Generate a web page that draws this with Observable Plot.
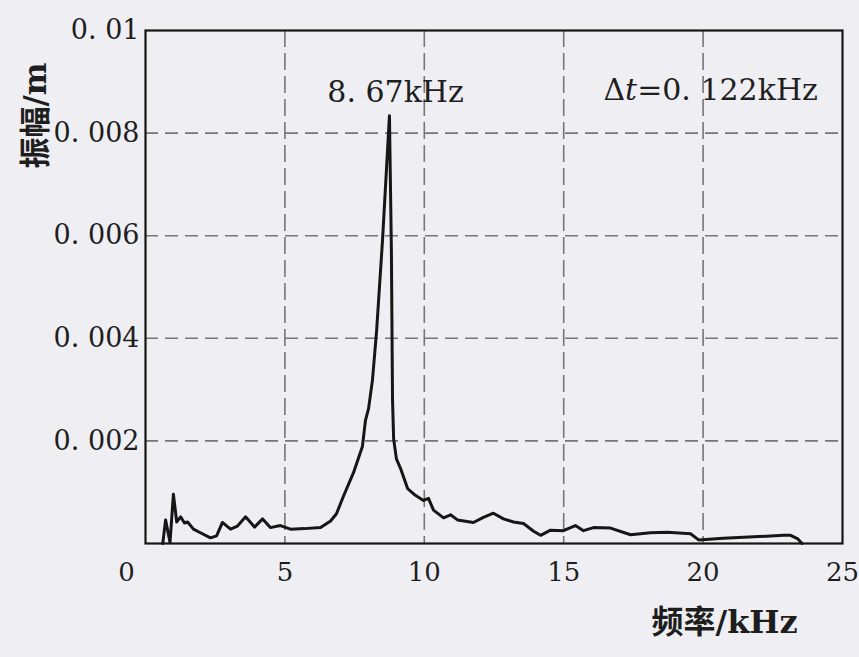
<!DOCTYPE html>
<html>
<head>
<meta charset="utf-8">
<script src="https://cdn.jsdelivr.net/npm/d3@7"></script>
<script src="https://cdn.jsdelivr.net/npm/@observablehq/plot@0.6"></script>
<style>
  html, body { margin: 0; padding: 0; background: #efeff3; }
  #chart svg { display: block; }
</style>
</head>
<body>
<div id="chart"></div>
<script>
// Frequency (kHz) and amplitude (m)
const freq = [0.62, 0.72, 0.88, 1.00, 1.12, 1.26, 1.40, 1.51, 1.72, 1.97, 2.33, 2.55, 2.76, 3.05, 3.30, 3.59, 3.91, 4.20, 4.48, 4.84, 5.20, 5.70, 6.28, 6.64, 6.85, 7.10, 7.46, 7.78, 7.89, 8.00, 8.14, 8.29, 8.50, 8.75, 8.82, 8.86, 8.90, 9.00, 9.15, 9.40, 9.68, 9.97, 10.15, 10.33, 10.69, 10.94, 11.19, 11.76, 12.12, 12.48, 12.84, 13.20, 13.56, 13.92, 14.17, 14.53, 14.99, 15.42, 15.71, 16.07, 16.68, 17.40, 18.11, 18.72, 19.55, 19.84, 20.73, 22.88, 23.14, 23.40, 23.55];
const amp  = [0.0, 0.00046, 0.00002, 0.00096, 0.00042, 0.00052, 0.00040, 0.00042, 0.00028, 0.00021, 0.00011, 0.00015, 0.00041, 0.00028, 0.00034, 0.00052, 0.00032, 0.00048, 0.00031, 0.00035, 0.00028, 0.00029, 0.00031, 0.00044, 0.00058, 0.00092, 0.00138, 0.00189, 0.00240, 0.00263, 0.00318, 0.00415, 0.00590, 0.00834, 0.00570, 0.00280, 0.00204, 0.00165, 0.00146, 0.00107, 0.00094, 0.00084, 0.00088, 0.00065, 0.00050, 0.00056, 0.00046, 0.00041, 0.00051, 0.00059, 0.00048, 0.00042, 0.00039, 0.00024, 0.00016, 0.00026, 0.00025, 0.00035, 0.00025, 0.00031, 0.00030, 0.00017, 0.00021, 0.00022, 0.00019, 0.00007, 0.00010, 0.00016, 0.00016, 0.00009, 0.0];

const xTicks = [5, 10, 15, 20, 25];
const xTickLabels = ["5", "10", "15", "20", "25"];
const yTicks = [0.002, 0.004, 0.006, 0.008, 0.01];
const yTickLabels = ["0. 002", "0. 004", "0. 006", "0. 008", "0. 01"];
const xGrid = [5, 10, 15, 20];
const yGrid = [0.002, 0.004, 0.006, 0.008];

const peakLabel = "8. 67kHz";
const resLabel = "Δt=0. 122kHz";
const xTitle = "频率/kHz";
const yTitle = "振幅/m";

const data = freq.map((f, i) => ({f, a: amp[i]}));

const serif = "'DejaVu Serif', 'Liberation Serif', serif";
const cjk = "'Noto Sans CJK SC', sans-serif";
const ink = "#1e1e1e";

const chart = Plot.plot({
  width: 859,
  height: 657,
  marginLeft: 145,
  marginRight: 17,
  marginTop: 30,
  marginBottom: 114,
  style: {background: "transparent", fontFamily: serif, fontSize: "26px", color: ink},
  x: {domain: [0, 25]},
  y: {domain: [0, 0.01]},
  marks: [
    Plot.ruleY(yGrid, {stroke: "#767676", strokeWidth: 1.6, strokeDasharray: "13,7"}),
    Plot.ruleX(xGrid, {stroke: "#767676", strokeWidth: 1.6, strokeDasharray: "17,6"}),
    Plot.line(data, {x: "f", y: "a", stroke: "#161616", strokeWidth: 3, strokeLinejoin: "round"}),
    Plot.frame({stroke: "#161616", strokeWidth: 2.2}),
    Plot.axisX({ticks: xTicks, tickFormat: (d) => xTickLabels[xTicks.indexOf(d)], tickSize: 0, tickPadding: 19, label: null, fontSize: 26}),
    Plot.text(["0"], {x: 0, y: 0, dx: -19, dy: 29, fontSize: 26, fill: ink}),
    Plot.axisY({ticks: yTicks, tickFormat: (d) => yTickLabels[yTicks.indexOf(d)], tickSize: 0, tickPadding: 6, label: null, fontSize: 27}),
    Plot.text([peakLabel], {x: 8.97, y: 0.00879, fontSize: 30, fill: ink}),
    Plot.text([resLabel], {x: 20.27, y: 0.00883, fontSize: 30, fill: ink}),
    Plot.text([xTitle], {x: 20.77, frameAnchor: "bottom", dy: 89, fontSize: 32, fontWeight: "bold", fontFamily: cjk, fill: ink}),
    Plot.text([yTitle], {frameAnchor: "top-left", dx: -122, dy: 85, rotate: -90, textAnchor: "middle", fontSize: 31, fontWeight: "bold", fontFamily: cjk, fill: ink})
  ]
});

document.getElementById("chart").appendChild(chart);

// italic t in the resolution label; serif unit parts in axis titles
d3.select(chart).selectAll("text").each(function() {
  const t = this.textContent;
  const el = d3.select(this);
  if (t === resLabel) {
    el.text(null);
    el.append("tspan").text("Δ");
    el.append("tspan").attr("font-style", "italic").text("t");
    el.append("tspan").text("=0. 122kHz");
  } else if (t === xTitle || t === yTitle) {
    const k = t.indexOf("/");
    el.text(null);
    el.append("tspan").text(t.slice(0, k));
    el.append("tspan").attr("font-family", serif).text(t.slice(k));
  }
});
</script>
</body>
</html>
